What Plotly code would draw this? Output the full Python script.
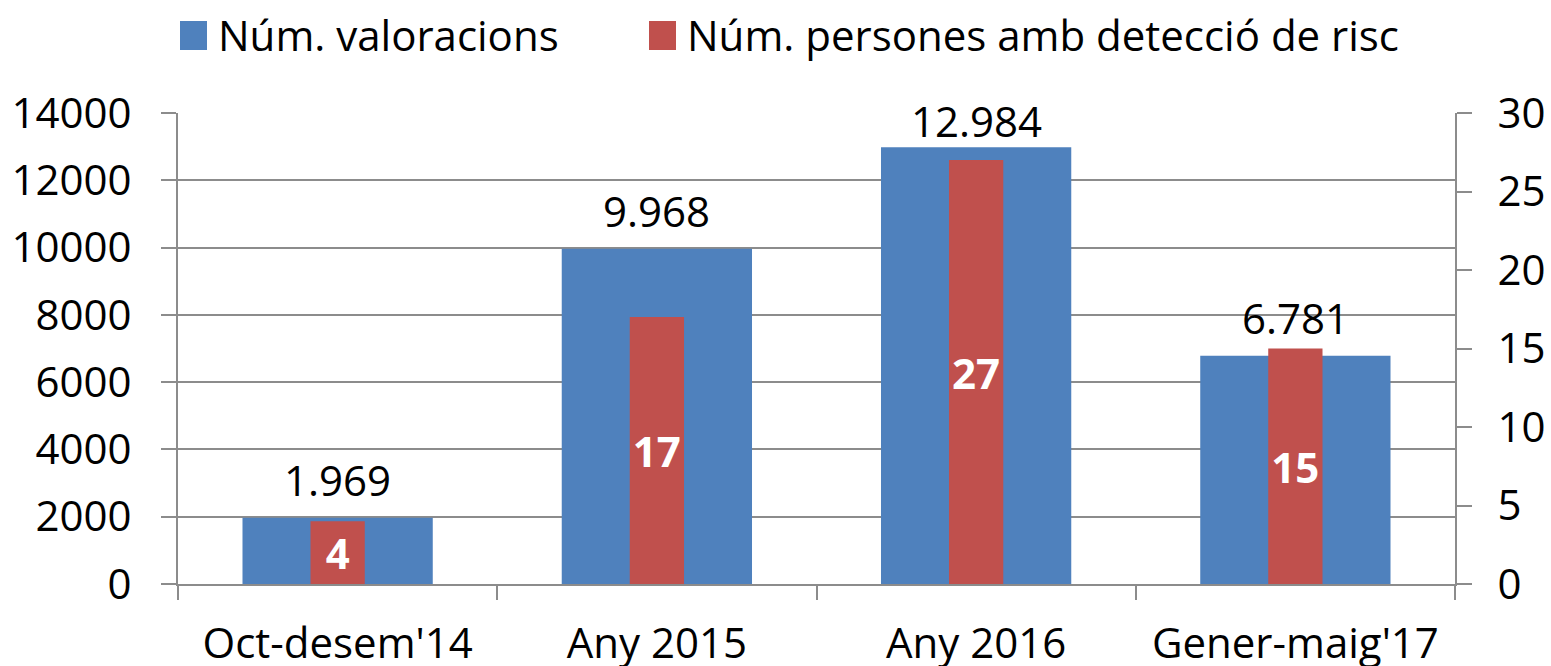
import plotly.graph_objects as go

categories = ["Oct-desem'14", "Any 2015", "Any 2016", "Gener-maig'17"]
valoracions = [1969, 9968, 12984, 6781]
persones_risc = [4, 17, 27, 15]
series_names = ["Núm. valoracions", "Núm. persones amb detecció de risc"]
left_ticks = [0, 2000, 4000, 6000, 8000, 10000, 12000, 14000]
right_ticks = [0, 5, 10, 15, 20, 25, 30]

BLUE = "#4F81BD"
RED = "#C0504D"
GRID = "#8C8C8C"
FONT = "Open Sans"
FS = 42

W, H = 1551, 666
L, R, T, B = 178, 96, 113, 82
plot_h = H - T - B
plot_w = W - L - R

fig = go.Figure()
fig.add_trace(go.Bar(
    x=categories, y=valoracions, name=series_names[0],
    marker=dict(color=BLUE, line=dict(width=0)), width=0.596,
    yaxis="y", showlegend=False, hoverinfo="x+y",
))
fig.add_trace(go.Bar(
    x=categories, y=persones_risc, name=series_names[1],
    marker=dict(color=RED, line=dict(width=0)), width=0.17,
    yaxis="y2", showlegend=False,
    text=[str(v) for v in persones_risc], textposition="inside",
    insidetextanchor="middle", constraintext="none",
    textfont=dict(family=FONT, size=FS, color="white", weight="bold"),
))

# value labels for blue bars
ymax = left_ticks[-1]
annotations = []
for c, v in zip(categories, valoracions):
    bar_top_px = v / ymax * plot_h
    center_px = min(bar_top_px + 38, plot_h - 8)
    annotations.append(dict(
        x=c, y=v, xref="x", yref="y", text=f"{v:,}".replace(",", "."),
        showarrow=False, yanchor="middle", yshift=center_px - bar_top_px,
        font=dict(family=FONT, size=FS, color="black"),
    ))

# custom legend
def px_x(p):
    return (p - L) / plot_w

def px_y(p):
    return (H - B - p) / plot_h

legend_items = [(BLUE, series_names[0], 180, 207), (RED, series_names[1], 649, 676)]
shapes = []
for col, name, x0, x1 in legend_items:
    shapes.append(dict(type="rect", xref="paper", yref="paper",
                       x0=px_x(x0), x1=px_x(x1), y0=px_y(50), y1=px_y(21),
                       fillcolor=col, line=dict(width=0)))
    annotations.append(dict(x=px_x(x1 + 9), y=px_y(34), xref="paper", yref="paper",
                            text=name, showarrow=False, xanchor="left", yanchor="middle",
                            font=dict(family=FONT, size=FS, color="black")))

fig.update_layout(
    width=W, height=H, margin=dict(l=L, r=R, t=T, b=B, pad=0, autoexpand=False),
    paper_bgcolor="white", plot_bgcolor="white",
    barmode="overlay", showlegend=False,
    font=dict(family=FONT, size=FS, color="black"),
    xaxis=dict(
        type="category", range=[-0.5, 3.5], showline=True, linecolor=GRID, linewidth=2,
        ticks="outside", tickson="boundaries", ticklen=14, tickwidth=2, tickcolor=GRID,
        showgrid=False, tickfont=dict(family=FONT, size=FS, color="black"),
        ticklabelstandoff=22, automargin=False,
    ),
    yaxis=dict(
        range=[0, ymax], tickvals=left_ticks, ticktext=[str(t) for t in left_ticks],
        showline=True, linecolor=GRID, linewidth=2, showgrid=True, gridcolor=GRID, gridwidth=2,
        ticks="outside", ticklen=15, tickwidth=2, tickcolor=GRID, zeroline=False,
        tickfont=dict(family=FONT, size=FS, color="black"), ticklabelstandoff=21,
        automargin=False,
    ),
    yaxis2=dict(
        range=[0, right_ticks[-1]], tickvals=right_ticks, overlaying="y", side="right",
        showline=True, linecolor=GRID, linewidth=2, showgrid=False, zeroline=False,
        ticks="outside", ticklen=15, tickwidth=2, tickcolor=GRID,
        tickfont=dict(family=FONT, size=FS, color="black"), ticklabelstandoff=17,
        automargin=False,
    ),
    shapes=shapes, annotations=annotations,
)

fig.write_html(
    "out.html",
    config={"displayModeBar": False},
    post_script="document.body.style.margin='0';document.body.style.overflow='hidden';",
)
